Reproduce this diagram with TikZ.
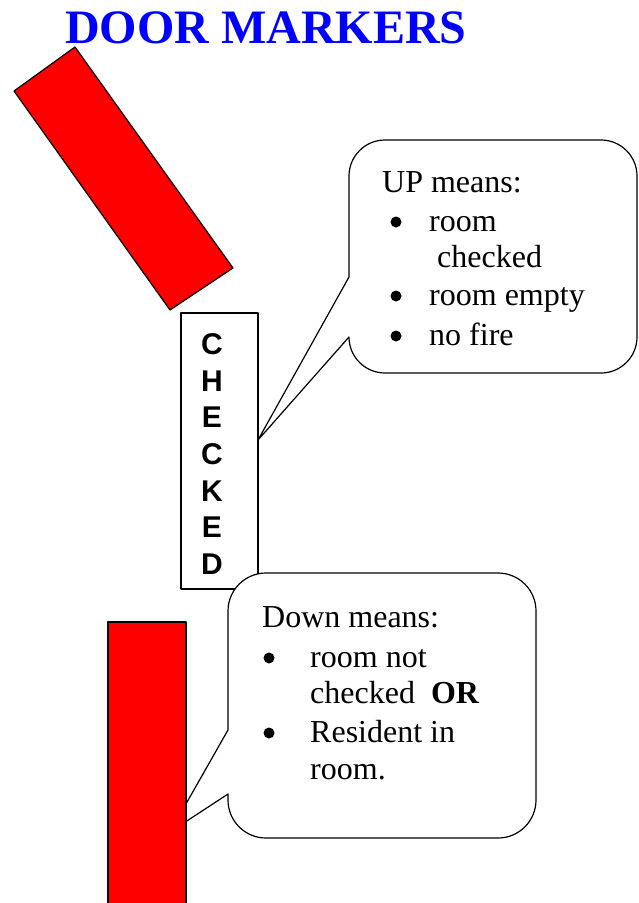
\documentclass[tikz,border=0pt]{standalone}
\usepackage{fontspec}
\setmainfont{Liberation Serif}
\newfontfamily\arialfont{Liberation Sans}
\usetikzlibrary{calc}

\begin{document}
\begin{tikzpicture}[x=1pt,y=-1pt,line join=round,
  txt/.style={anchor=base west,inner sep=0pt,font=\fontsize{32}{38}\selectfont},
  dot/.style={circle,fill,inner sep=0pt,minimum size=11pt},
  bubble/.style={draw,fill=white,line width=1.2pt},
  marker/.style={draw,fill=red,line width=1.2pt}]
\useasboundingbox (0,0) rectangle (638,903);
\node[anchor=base west,inner sep=0pt,text=blue,font=\fontsize{48}{50}\selectfont\bfseries] (title) at (65,43) {DOOR MARKERS};
\coordinate (T1) at (75,47);
\coordinate (T2) at (233,268);
\coordinate (T3) at (170,310);
\coordinate (T4) at (14,91);
\draw[marker] (T1)--(T2)--(T3)--(T4)--cycle;
\coordinate (uptip) at (258,440);
\draw[bubble] (349,277)--(uptip)--(349,337) arc[start angle=180,end angle=90,radius=36]
  --(601,373) arc[start angle=90,end angle=0,radius=36]
  --(637,176) arc[start angle=0,end angle=-90,radius=36]
  --(385,140) arc[start angle=270,end angle=180,radius=36]--cycle;
\node[txt] (up) at (382,192) {UP means:};
\node[dot] (b1) at (396,222) {};
\node[txt] (up1) at (429,231) {room};
\node[txt] (up2) at (437,267) {checked};
\node[dot] (b2) at (396,296) {};
\node[txt] (up3) at (429,305) {room empty};
\node[dot] (b3) at (396,336) {};
\node[txt] (up4) at (429,345) {no fire};
\draw[fill=white,line width=1.6pt] (181,313) rectangle (258,589);
\node[align=center,inner sep=0pt,font=\arialfont\bfseries\fontsize{30}{36.7}\selectfont] (checked) at (212,454) {C\\H\\E\\C\\K\\E\\D};
\coordinate (downtip) at (170,832);
\draw[bubble] (228,730)--(downtip)--(228,794)--(228,800) arc[start angle=180,end angle=90,radius=38]
  --(498,838) arc[start angle=90,end angle=0,radius=38]
  --(536,611) arc[start angle=0,end angle=-90,radius=38]
  --(266,573) arc[start angle=270,end angle=180,radius=38]--cycle;
\node[txt] (down) at (262,627) {Down means:};
\node[dot] (b4) at (269,658) {};
\node[txt] (down1) at (310,667) {room not};
\node[txt] (down2) at (310,703) {checked\ \ \textbf{OR}};
\node[dot] (b5) at (269,733) {};
\node[txt] (down3) at (310,742) {Resident in};
\node[txt] (down4) at (310,779) {room.};
\draw[marker] (108,622) rectangle (186,912);
\end{tikzpicture}
\end{document}
